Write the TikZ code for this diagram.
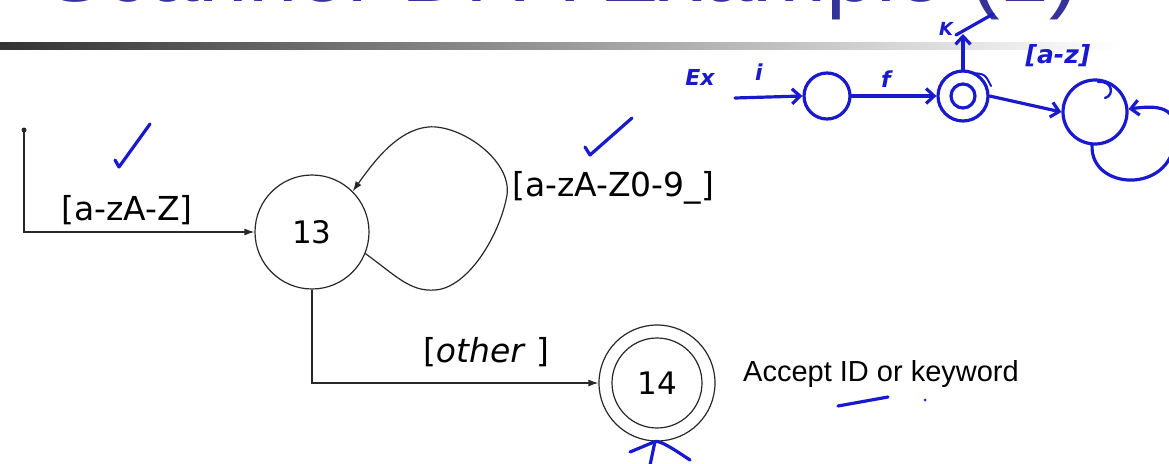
\documentclass[tikz,border=0pt]{standalone}
\usepackage{fontspec}
\setmainfont{DejaVu Sans}
\newfontfamily\arialf{Liberation Sans}
\usetikzlibrary{arrows.meta}
\definecolor{titleblue}{RGB}{51,51,153}
\definecolor{ink}{RGB}{25,25,205}
\definecolor{linec}{RGB}{40,40,40}
\begin{document}
\begin{tikzpicture}[x=1pt,y=-1pt,
  state/.style={circle, draw=linec, line width=1.2pt, minimum size=114pt, inner sep=0pt, font=\fontsize{31}{34}\selectfont},
  edge/.style={draw=linec, line width=1.2pt, -{Latex[length=10pt,width=7pt]}},
  lbl/.style={font=\fontsize{33}{38}\selectfont, inner sep=0pt},
  pen/.style={draw=ink, line width=3.2pt, line cap=round, line join=round},
  penarrow/.style={pen, -{Straight Barb[length=8pt,width=15pt]}},
  pencirc/.style={circle, draw=ink, line width=3.2pt, inner sep=0pt},
  hand/.style={text=ink, inner sep=0pt, font=\bfseries\itshape\fontsize{22}{24}\selectfont}
]
\useasboundingbox (0,0) rectangle (1169,463);
\clip (0,0) rectangle (1169,463);
% title and rule
\node[anchor=base west, inner sep=0pt, text=titleblue, font=\arialf\fontsize{89}{100}\selectfont] (title) at (45,1.5) {Scanner DFA Example (1)};
\shade[left color=black!80, right color=white] (0,42) rectangle (1120,49);
% states
\node[state] (n13) at (312,232) {13};
\node[state, minimum size=116pt] (n14) at (657,383) {14};
\draw[linec, line width=1.2pt] (n14.center) circle[radius=45pt];
\coordinate (start) at (24,130);
\fill[linec] (start) circle[radius=2.5pt];
% edges
\draw[edge] (start) |- (n13);
\draw[edge] (n13.-22) .. controls (395,275) and (410,292) .. (435,290)
   .. controls (468,288) and (500,235) .. (507,195)
   .. controls (512,160) and (460,124) .. (428,127)
   .. controls (398,130) and (375,160) .. (n13.45);
\draw[edge] (n13.south) |- (n14);
% labels
\node[lbl] (l1) at (127,210) {[a-zA-Z]};
\node[lbl, anchor=west] (l2) at (512,188) {[a-zA-Z0-9\_]};
\node[lbl] (l3) at (486,352) {[\textit{other} ]};
\node[anchor=west, inner sep=0pt, font=\arialf\fontsize{29}{32}\selectfont] (l4) at (743,374) {Accept ID or keyword};
% handwriting: check marks
\draw[pen] (115,160) -- (119,167) -- (150,124);
\draw[pen] (585,147) -- (590,155) -- (632,118);
% handwritten sketch
\node[hand] (ex) at (700,77) {Ex};
\node[hand] (ii) at (759,72) {i};
\coordinate (sa) at (735,98);
\node[pencirc, minimum size=46pt] (s1) at (827,96) {};
\draw[penarrow] (sa) -- (s1.west);
\node[hand] (ff) at (886,79) {f};
\node[pencirc, minimum size=50pt] (s2) at (963,96) {};
\draw[ink, line width=3.2pt] (s2.center) circle[radius=12pt];
\draw[penarrow] (s1.east) -- (s2.west);
\coordinate (k) at (963,34);
\draw[penarrow] (s2.north) -- (k);
\node[hand, font=\bfseries\itshape\fontsize{18}{20}\selectfont] (kk) at (946,29) {K};
\draw[pen] (956,35) -- (993,14);
\draw[pen, line width=2pt] (972,73) .. controls (985,74) .. (991,86);
\node[pencirc, minimum size=64pt] (s3) at (1095,112) {};
\draw[penarrow] (s2.east) -- (s3.west);
\node[hand, font=\bfseries\itshape\fontsize{25}{27}\selectfont] (az) at (1058,56) {[a-z]};
\draw[pen, line width=2.4pt] (1098,82) .. controls (1112,80) and (1115,95) .. (1105,98);
\draw[penarrow] (s3.-95) .. controls (1090,190) and (1170,195) .. (1175,140)
   .. controls (1178,110) and (1165,104) .. (s3.5);
% underline mark and dot
\draw[pen] (838,406) -- (888,397);
\fill[ink] (925,400) circle[radius=1.5pt];
% arrow under 14
\coordinate (bt) at (649,470);
\draw[pen] (bt) -- (n14.-92);
\draw[pen] (630,452) -- (n14.-92) .. controls (660,440) and (675,450) .. (690,460);
\end{tikzpicture}
\end{document}
